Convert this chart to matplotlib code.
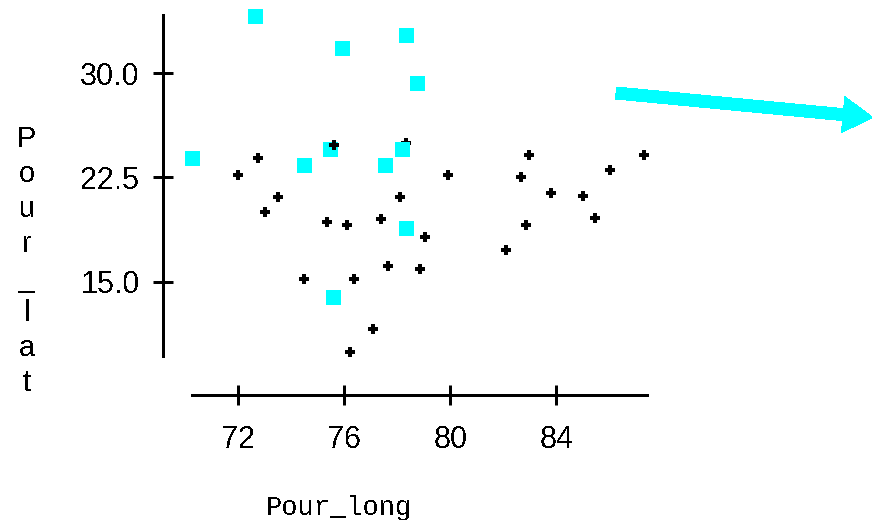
import matplotlib.pyplot as plt
from matplotlib.patches import FancyArrow
from matplotlib.transforms import IdentityTransform

# Points in record order; "+" rows are the plain sites, "s" rows the marked ones
pour_long = [72.0, 72.75, 73.5, 73.0, 78.32, 78.1, 79.9, 75.35, 76.1, 77.4,
             79.05, 74.5, 76.35, 77.65, 78.85, 77.1, 76.2, 82.95, 82.65, 83.8,
             85.0, 86.0, 87.3, 82.85, 82.1, 85.45,
             72.64, 75.91, 78.32, 78.75, 70.25, 74.48, 75.47, 77.53, 78.16,
             78.32, 75.57,
             75.6]
pour_lat = [22.7, 23.9, 21.1, 20.0, 25.0, 21.1, 22.7, 19.3, 19.1, 19.5,
            18.2, 15.2, 15.2, 16.1, 15.9, 11.6, 9.95, 24.1, 22.5, 21.35,
            21.15, 23.0, 24.1, 19.1, 17.3, 19.55,
            34.13, 31.82, 32.74, 29.31, 23.87, 23.38, 24.54, 23.38, 24.54,
            18.87, 13.87,
            24.8]
kind = ["+"] * 26 + ["s"] * 11 + ["+"]

x_ticks = [72, 76, 80, 84]
y_ticks = [15.0, 22.5, 30.0]

plt.rcParams['text.antialiased'] = False

fig = plt.figure(figsize=(8.72, 5.20), dpi=100)
ax = fig.add_axes([163.3 / 872, 125 / 520, 536.7 / 872, 395 / 520])

for lon, lat, k in zip(pour_long, pour_lat, kind):
    if k == "+":
        ax.plot(lon, lat, marker="P", markersize=6.6, color="black",
                markeredgewidth=0, linestyle="none", clip_on=False,
                antialiased=False)
    else:
        ax.plot(lon, lat, marker="s", markersize=10.8, color="#00ffff",
                markeredgewidth=0, linestyle="none", clip_on=False,
                antialiased=False)

ax.set_xlim(69.18, 89.41)
ax.set_ylim(6.84, 35.27)

for side in ["top", "right"]:
    ax.spines[side].set_visible(False)
ax.spines["left"].set_bounds(9.67, 34.19)
ax.spines["bottom"].set_bounds(70.25, 87.40)
for side in ["left", "bottom"]:
    ax.spines[side].set_linewidth(2.16)
    ax.spines[side].set_antialiased(False)

ax.set_xticks(x_ticks)
ax.set_xticklabels([str(t) for t in x_ticks])
ax.set_yticks(y_ticks)
ax.set_yticklabels([f"{t:.1f}" for t in y_ticks])
ax.tick_params(axis="both", direction="inout", length=15, width=2.16,
               labelsize=22)
ax.tick_params(axis="x", pad=14)
ax.tick_params(axis="y", pad=9.5)
for lab in ax.get_xticklabels() + ax.get_yticklabels():
    lab.set_fontfamily("Liberation Sans")

ax.set_xlabel("Pour_long", fontfamily="Liberation Mono", fontsize=19.5,
              va="baseline", ha="center")
ax.xaxis.set_label_coords(0.3283, -0.304)

ax.set_ylabel("\n".join("Pour_lat"), fontfamily="Liberation Sans",
              fontsize=20.8, rotation=0, ha="center", va="center",
              linespacing=1.31)
ax.yaxis.set_label_coords(-0.2545, 0.339)

# pointer arrow off to the right, drawn in pixel space
arrow = FancyArrow(616, 427, 257, -24.5, width=12, head_width=36,
                   head_length=30, length_includes_head=True,
                   color="#00ffff", linewidth=0, transform=IdentityTransform(),
                   antialiased=False)
fig.patches.append(arrow)

fig.savefig("out.png", dpi=100, facecolor="white")
